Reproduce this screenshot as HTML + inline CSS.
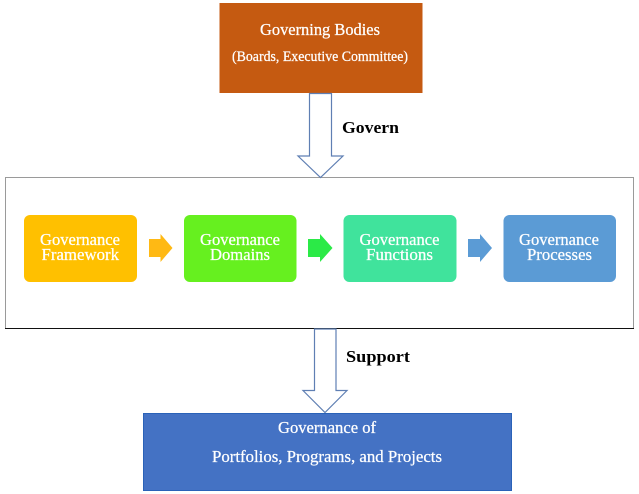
<!DOCTYPE html>
<html><head><meta charset="utf-8">
<style>
html,body{margin:0;padding:0;background:#fff;width:639px;height:494px;overflow:hidden}
svg{display:block}
text{font-family:"Liberation Serif",serif}
.w{fill:#fff;font-size:17px;stroke:#fff;stroke-width:.25px}
.b{fill:#000;font-size:16.5px;font-weight:bold}
.art{filter:blur(.3px)}
</style></head>
<body>
<svg width="639" height="494" viewBox="0 0 639 494" xmlns="http://www.w3.org/2000/svg">
<g class="art">
<rect x="219.5" y="3" width="203" height="90" fill="#c55a11"/>
<text class="w" x="260" y="35" textLength="120" lengthAdjust="spacingAndGlyphs">Governing Bodies</text>
<text class="w" style="font-size:15px" x="232" y="61" textLength="176" lengthAdjust="spacingAndGlyphs">(Boards, Executive Committee)</text>

<rect x="5.5" y="177.5" width="628" height="151" fill="#fff" stroke="#9a9a9a" stroke-width="1"/>
<line x1="5" y1="328.5" x2="634" y2="328.5" stroke="#111" stroke-width="1"/>

<polygon points="309.5,93.5 331.5,93.5 331.5,156 343,156 320.5,177.5 298,156 309.5,156" fill="#fff" stroke="#5f7fb3" stroke-width="1.2"/>
<text class="b" x="342" y="133" textLength="57" lengthAdjust="spacingAndGlyphs">Govern</text>

<rect x="24" y="215" width="113" height="67" rx="6" fill="#ffc000"/>
<rect x="184" y="215" width="112.5" height="67" rx="6" fill="#66f01f"/>
<rect x="343.5" y="215" width="113" height="67" rx="6" fill="#40e39c"/>
<rect x="503.5" y="215" width="112.5" height="67" rx="6" fill="#5b9bd5"/>

<polygon points="149,239 160.500,239 160.500,234 172.500,248 160.500,262 160.500,257 149,257" fill="#ffb914"/>
<polygon points="308,239 320,239 320,234 332.500,248 320,262 320,257 308,257" fill="#2bea47"/>
<polygon points="468,239 480,239 480,234 492,248 480,262 480,257 468,257" fill="#5b9bd5"/>

<text class="w" x="40" y="245" textLength="80" lengthAdjust="spacingAndGlyphs">Governance</text>
<text class="w" x="41.500" y="260" textLength="77.500" lengthAdjust="spacingAndGlyphs">Framework</text>
<text class="w" x="200" y="245" textLength="80" lengthAdjust="spacingAndGlyphs">Governance</text>
<text class="w" x="210" y="260" textLength="60" lengthAdjust="spacingAndGlyphs">Domains</text>
<text class="w" x="359.500" y="245" textLength="80" lengthAdjust="spacingAndGlyphs">Governance</text>
<text class="w" x="366" y="260" textLength="67" lengthAdjust="spacingAndGlyphs">Functions</text>
<text class="w" x="519" y="245" textLength="80" lengthAdjust="spacingAndGlyphs">Governance</text>
<text class="w" x="527" y="260" textLength="65" lengthAdjust="spacingAndGlyphs">Processes</text>

<polygon points="314.500,329 336,329 336,390.500 347,390.500 325,412.500 303,390.500 314.500,390.500" fill="#fff" stroke="#5f7fb3" stroke-width="1.2"/>
<text class="b" x="346" y="362" textLength="64" lengthAdjust="spacingAndGlyphs">Support</text>

<rect x="143.500" y="413.500" width="368" height="77" fill="#4472c4" stroke="#2a62b8" stroke-width="1"/>
<text class="w" x="278" y="433" textLength="98" lengthAdjust="spacingAndGlyphs">Governance of</text>
<text class="w" x="212" y="462" textLength="230" lengthAdjust="spacingAndGlyphs">Portfolios, Programs, and Projects</text>
</g>
</svg>
</body></html>
